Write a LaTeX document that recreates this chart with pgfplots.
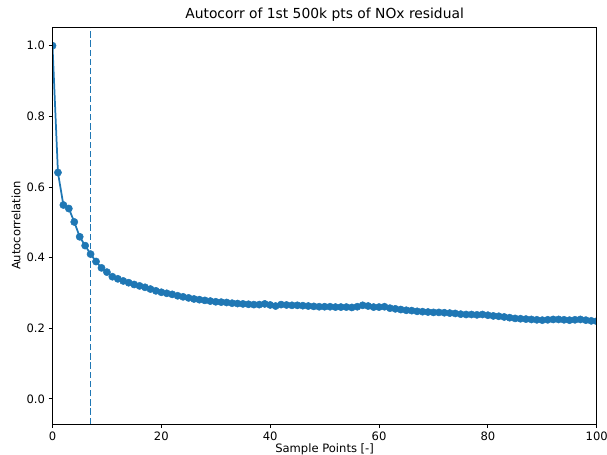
\documentclass[border=0pt]{standalone}
\usepackage{fontspec}
\setmainfont{DejaVu Sans}
\usepackage{pgfplots}
\pgfplotsset{compat=1.18}
\definecolor{c0}{HTML}{1F77B4}
\pgfplotstableread{
x y
0 1.000
1 0.641
2 0.549
3 0.539
4 0.501
5 0.459
6 0.434
7 0.410
8 0.389
9 0.371
10 0.359
11 0.346
12 0.340
13 0.334
14 0.329
15 0.324
16 0.320
17 0.316
18 0.311
19 0.306
20 0.302
21 0.299
22 0.296
23 0.292
24 0.289
25 0.286
26 0.283
27 0.281
28 0.279
29 0.277
30 0.275
31 0.274
32 0.273
33 0.271
34 0.270
35 0.269
36 0.268
37 0.267
38 0.267
39 0.269
40 0.266
41 0.263
42 0.267
43 0.266
44 0.265
45 0.265
46 0.264
47 0.263
48 0.262
49 0.261
50 0.261
51 0.261
52 0.260
53 0.260
54 0.260
55 0.259
56 0.261
57 0.265
58 0.263
59 0.260
60 0.260
61 0.261
62 0.257
63 0.255
64 0.253
65 0.251
66 0.250
67 0.248
68 0.247
69 0.246
70 0.245
71 0.245
72 0.244
73 0.243
74 0.242
75 0.240
76 0.239
77 0.239
78 0.238
79 0.239
80 0.237
81 0.235
82 0.234
83 0.232
84 0.230
85 0.228
86 0.227
87 0.226
88 0.225
89 0.224
90 0.223
91 0.224
92 0.225
93 0.225
94 0.224
95 0.223
96 0.224
97 0.225
98 0.223
99 0.221
100 0.220
}\acf
\begin{document}
\begin{tikzpicture}[x=1bp,y=1bp]
\begin{axis}[
  at={(52.5bp,31bp)}, anchor=south west,
  width=544.2bp, height=397bp, scale only axis,
  xmin=0, xmax=100, ymin=-0.071, ymax=1.053,
  xtick={0,20,40,60,80,100},
  ytick={0,0.2,0.4,0.6,0.8,1},
  yticklabel style={/pgf/number format/fixed, /pgf/number format/fixed zerofill, /pgf/number format/precision=1},
  /pgf/number format/assume math mode=true,
  tick align=outside, tick pos=left, major tick length=4bp,
  axis line style={line width=0.93bp, black},
  every tick/.style={line width=0.93bp, black},
  tick label style={font=\fontsize{11.6}{13.5}\selectfont},
  label style={font=\fontsize{11.6}{13.5}\selectfont},
  xlabel={Sample Points [-]},
  ylabel={Autocorrelation},
  xlabel style={at={(axis description cs:0.5,-0.063)}, anchor=center},
  ylabel style={at={(axis description cs:-0.0671,0.5)}, anchor=center},
  title={Autocorr of 1st 500k pts of NOx residual},
  title style={at={(axis description cs:0.5,1)}, anchor=base, yshift=2.5bp, font=\fontsize{13.9}{16}\selectfont},
  axis on top,
  clip marker paths=true,
]
\addplot[c0, line width=1.74bp, mark=*, mark size=3.6bp, mark options={solid, fill=c0, draw=c0, line width=0.5bp}] table[x=x,y=y] {\acf};
\addplot[c0, line width=1.74bp, dash pattern=on 6.4bp off 2.8bp] coordinates {(7,-0.071) (7,1.053)};
\end{axis}
\pgfresetboundingbox
\useasboundingbox (0,0) rectangle (607,455);
\end{tikzpicture}
\end{document}
